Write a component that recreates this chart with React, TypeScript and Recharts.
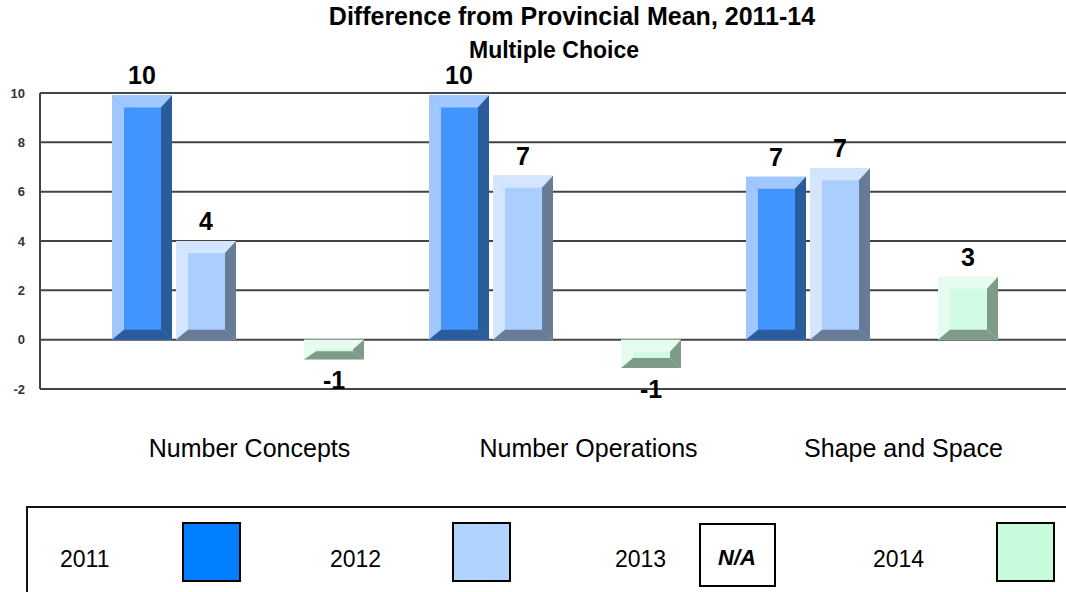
import { BarChart, Bar, XAxis, YAxis, CartesianGrid, LabelList } from "recharts";

const categories = ["Number Concepts", "Number Operations", "Shape and Space"];
const years = ["2011", "2012", "2013", "2014"];
const values2011 = [9.9, 9.9, 6.6];
const values2012 = [4.0, 6.65, 6.95];
const values2013: (number | null)[] = [null, null, null];
const values2014 = [-0.8, -1.15, 2.55];
const yTicks = [-2, 0, 2, 4, 6, 8, 10];

const data = categories.map((name, i) => ({
  name,
  y2011: values2011[i],
  y2012: values2012[i],
  y2013: values2013[i],
  y2014: values2014[i],
}));

const FONT = "Arial, 'Liberation Sans', sans-serif";

// bevel colours per year: light rim, face, dark rim
const palettes = [
  { light: "#a0c8ff", face: "#4294ff", dark: "#2a5c9c" },
  { light: "#d4e6ff", face: "#aacfff", dark: "#687b97" },
  { light: "#eeeeee", face: "#ffffff", dark: "#999999" },
  { light: "#e6fcee", face: "#d1fbe2", dark: "#7e9b89" },
];
const swatchColors = ["#0080ff", "#b0d4ff", null, "#c6fcdc"];

// legend layout
const legendTextX = [60, 330, 615, 873];
const legendSwatchX = [183, 453, 700, 997];
// nudge category labels like the original
const tickNudge = [11, 33, 31];

function BevelBar(props: any) {
  const { x, width, pal } = props;
  let { y, height } = props;
  if (height == null || width == null) return null;
  if (height < 0) {
    y = y + height;
    height = -height;
  }
  const w = width;
  const h = height;
  const s = Math.min(1, (h - 2) / 22);
  const bt = 12 * s;
  const bb = 10 * s;
  const bl = Math.min(12, w / 3);
  const br = Math.min(11, w / 3);
  const pts = (a: number[][]) => a.map((p) => p.join(",")).join(" ");
  return (
    <g>
      <rect x={x} y={y} width={w} height={h} fill={pal.face} />
      <polygon points={pts([[x, y], [x + bl, y + bt], [x + bl, y + h - bb], [x, y + h]])} fill={pal.light} />
      <polygon points={pts([[x, y], [x + w, y], [x + w - br, y + bt], [x + bl, y + bt]])} fill={pal.light} />
      <polygon points={pts([[x + w, y], [x + w, y + h], [x + w - br, y + h - bb], [x + w - br, y + bt]])} fill={pal.dark} />
      <polygon points={pts([[x, y + h], [x + w, y + h], [x + w - br, y + h - bb], [x + bl, y + h - bb]])} fill={pal.dark} />
    </g>
  );
}

function ValueLabel(props: any) {
  const { x, width, value } = props;
  let { y, height } = props;
  if (value == null) return null;
  if (height < 0) {
    y = y + height;
    height = -height;
  }
  const ty = value >= 0 ? y - 11 : y + height + 30;
  return (
    <text x={x + width / 2} y={ty} textAnchor="middle" fontFamily={FONT} fontSize={25} fontWeight="bold" fill="#000">
      {Math.round(value)}
    </text>
  );
}

function CategoryTick(props: any) {
  const { x, y, payload, index } = props;
  return (
    <text x={x + (tickNudge[index] || 0)} y={y + 68} textAnchor="middle" fontFamily={FONT} fontSize={25} fill="#000">
      {payload.value}
    </text>
  );
}

export default function App() {
  const keys = ["y2011", "y2012", "y2013", "y2014"];
  return (
    <div style={{ position: "absolute", left: 0, top: 0, width: 1066, height: 592, overflow: "hidden", background: "#fff" }}>
      <BarChart
        width={1066}
        height={592}
        data={data}
        margin={{ top: 93, right: 0, left: 0, bottom: 173 }}
        barCategoryGap={32}
        barGap={4}
      >
        <CartesianGrid vertical={false} stroke="#444" strokeWidth={2} />
        <XAxis
          dataKey="name"
          axisLine={false}
          tickLine={false}
          tickSize={0}
          tickMargin={0}
          height={30}
          padding={{ left: 40, right: 35 }}
          tick={<CategoryTick />}
          interval={0}
        />
        <YAxis
          type="number"
          domain={[-2, 10]}
          ticks={yTicks}
          width={40}
          axisLine={{ stroke: "#444", strokeWidth: 2 }}
          tickLine={false}
          tickSize={0}
          tickMargin={15}
          tick={{ fontSize: 13, fontWeight: "bold", fill: "#333", fontFamily: FONT }}
        />
        {keys.map((k, i) => (
          <Bar
            key={k}
            dataKey={k}
            name={years[i]}
            isAnimationActive={false}
            shape={(p: any) => <BevelBar {...p} pal={palettes[i]} />}
          >
            <LabelList dataKey={k} content={<ValueLabel />} />
          </Bar>
        ))}
      </BarChart>
      <svg width={1066} height={592} style={{ position: "absolute", left: 0, top: 0, pointerEvents: "none" }}>
        <text x={572} y={25} textAnchor="middle" fontFamily={FONT} fontSize={25} fontWeight="bold" fill="#000">
          Difference from Provincial Mean, 2011-14
        </text>
        <text x={554} y={58} textAnchor="middle" fontFamily={FONT} fontSize={23} fontWeight="bold" fill="#000">
          Multiple Choice
        </text>
        <rect x={27} y={507} width={1100} height={100} fill="none" stroke="#111" strokeWidth={2} />
        {years.map((yr, i) => {
          const c = swatchColors[i];
          return (
            <g key={yr}>
              <text x={legendTextX[i]} y={567} fontFamily={FONT} fontSize={23} fill="#000">
                {yr}
              </text>
              {c ? (
                <rect x={legendSwatchX[i]} y={523} width={57} height={58} fill={c} stroke="#000" strokeWidth={2} />
              ) : (
                <g>
                  <rect x={legendSwatchX[i]} y={524} width={75} height={62} fill="#fff" stroke="#000" strokeWidth={2} />
                  <text
                    x={legendSwatchX[i] + 37}
                    y={565}
                    textAnchor="middle"
                    fontFamily={FONT}
                    fontSize={22}
                    fontWeight="bold"
                    fontStyle="italic"
                    fill="#000"
                  >
                    N/A
                  </text>
                </g>
              )}
            </g>
          );
        })}
      </svg>
    </div>
  );
}
